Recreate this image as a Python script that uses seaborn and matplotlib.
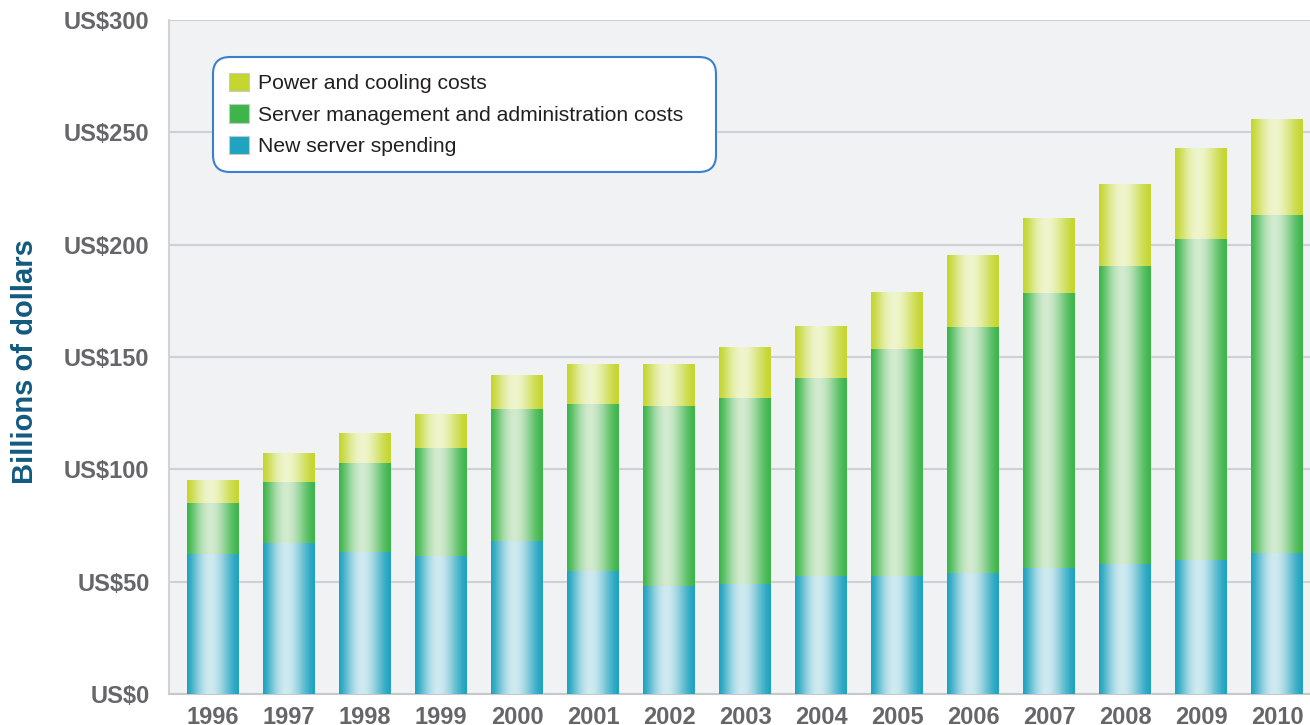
import matplotlib
matplotlib.use("Agg")
import matplotlib.pyplot as plt
from matplotlib.patches import Patch
from matplotlib.colors import to_rgb
import numpy as np
import pandas as pd
import seaborn as sns

years = [str(y) for y in range(1996, 2011)]
new_server = [62.5, 67.0, 63.4, 61.6, 67.9, 54.6, 48.2, 49.1, 52.7, 52.7, 53.9, 56.2, 58.0, 59.8, 62.7]
management = [22.6, 27.5, 39.5, 48.0, 59.1, 74.6, 80.1, 82.7, 87.8, 100.7, 109.6, 122.5, 132.3, 142.5, 150.3]
power_cooling = [10.3, 12.9, 13.4, 15.2, 15.2, 17.6, 18.5, 22.5, 23.1, 25.6, 31.7, 33.0, 36.5, 40.6, 42.8]

y_ticks = [0, 50, 100, 150, 200, 250, 300]
y_labels = ["US$" + str(v) for v in y_ticks]

labels = ["Power and cooling costs", "Server management and administration costs", "New server spending"]
edge_cols = ["#c4d62f", "#3db54b", "#1fa3be"]
light_cols = ["#eff5cc", "#d2eacf", "#cfe9f0"]

df = pd.DataFrame({"year": years, "new": new_server, "mgmt": management, "power": power_cooling})
df["top_mgmt"] = df["new"] + df["mgmt"]
df["total"] = df["top_mgmt"] + df["power"]


def shade(ax, patches, edge, light, z):
    """Horizontal 'cylinder' gradient clipped to each bar."""
    e = np.array(to_rgb(edge))
    l = np.array(to_rgb(light))
    t = np.linspace(0, 1, 200)
    w = np.sin(np.pi * t ** 0.87) ** 1.6
    img = (e + (l - e) * w[:, None])[None, :, :]
    for p in patches:
        x0, y0 = p.get_x(), p.get_y()
        im = ax.imshow(img, extent=(x0, x0 + p.get_width(), y0, y0 + p.get_height()),
                       aspect="auto", zorder=z + 0.5, interpolation="bilinear")
        im.set_clip_path(p)


sns.set_style("white")
plt.rcParams["font.family"] = ["Liberation Sans", "DejaVu Sans"]

fig = plt.figure(figsize=(13.1, 7.25), dpi=100)
ax = fig.add_axes([169 / 1310, 31 / 725, 1141 / 1310, 674 / 725])
ax.set_facecolor("#f1f2f4")

layers = ["total", "top_mgmt", "new"]
for i, col in enumerate(layers):
    n0 = len(ax.patches)
    sns.barplot(data=df, x="year", y=col, color=edge_cols[i], width=0.684,
                linewidth=0, saturation=1, ax=ax, zorder=3 + i)
    shade(ax, ax.patches[n0:], edge_cols[i], light_cols[i], 3 + i)

ax.set_xlim(-0.579, 14.43)
ax.set_ylim(0, 300)
ax.set_yticks(y_ticks)
ax.set_yticklabels(y_labels)
ax.yaxis.grid(True, color="#cfd0d3", lw=1.5)
ax.xaxis.grid(False)
ax.set_axisbelow(True)

for s in ["top", "right"]:
    ax.spines[s].set_visible(False)
ax.spines["left"].set_color("#d3d3d5")
ax.spines["left"].set_linewidth(1.5)
ax.spines["bottom"].set_color("#c8c9cb")
ax.spines["bottom"].set_linewidth(1.5)

ax.tick_params(axis="y", length=0, pad=14, labelsize=17, labelcolor="#646669")
ax.tick_params(axis="x", which="major", length=0, pad=9, labelsize=17, labelcolor="#646669")
for lab in ax.get_yticklabels() + ax.get_xticklabels():
    lab.set_fontweight("bold")
ax.set_xticks([-0.579] + np.arange(0.5, 14, 1).tolist(), minor=True)
ax.tick_params(axis="x", which="minor", length=17, width=1.5, color="#d3d3d5", direction="out")

ax.set_xlabel("")
ax.set_ylabel("Billions of dollars", fontsize=21, fontweight="bold", color="#135a80")
ax.yaxis.set_label_coords(-0.114, 0.493)

handles = [Patch(facecolor=c, edgecolor="#c9c9c9", linewidth=0.8) for c in edge_cols]
leg = ax.legend(handles, labels, loc="upper left", bbox_to_anchor=(0.0386, 0.0, 0.4408, 0.945),
                mode="expand", borderaxespad=0, fontsize=15.2, labelcolor="#231f20",
                handlelength=0.95, handleheight=0.95, handletextpad=0.45, labelspacing=0.53,
                borderpad=0.75, frameon=True, fancybox=True, facecolor="white",
                edgecolor="#3d7fcf", framealpha=1)
leg.get_frame().set_linewidth(1.5)
leg.get_frame().set_boxstyle("round,pad=0,rounding_size=0.8")
leg.set_zorder(10)

fig.savefig("out.png", dpi=100)
plt.close(fig)
